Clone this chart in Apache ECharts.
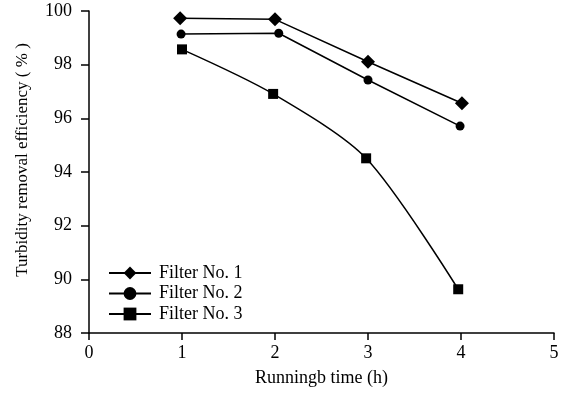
<!DOCTYPE html>
<html>
<head>
<meta charset="utf-8">
<script src="https://cdn.jsdelivr.net/npm/echarts@6/dist/echarts.min.js"></script>
<style>html,body{margin:0;padding:0;background:#fff;}#c{width:568px;height:394px;}</style>
</head>
<body>
<div id="c"></div>
<script>
const seriesNames = ['Filter No. 1', 'Filter No. 2', 'Filter No. 3'];
const filter1 = [[0.98, 99.73], [2.0, 99.69], [3.0, 98.11], [4.01, 96.56]];
const filter2 = [[0.99, 99.14], [2.04, 99.17], [3.0, 97.43], [3.99, 95.71]];
const filter3 = [[1.0, 98.57], [1.98, 96.91], [2.98, 94.51], [3.97, 89.63]];
const xTicks = [0, 1, 2, 3, 4, 5];
const yTicks = [88, 90, 92, 94, 96, 98, 100];

const font = 'Liberation Serif';
const chart = echarts.init(document.getElementById('c'));
function mk(name, data, symbol, size, smooth) {
  return {
    name: name, type: 'line', data: data, symbol: symbol, symbolSize: size,
    smooth: smooth, lineStyle: {color: '#000', width: 1.5}, itemStyle: {color: '#000'},
    showSymbol: true, animation: false, z: 3
  };
}
chart.setOption({
  animation: false,
  backgroundColor: '#fff',
  grid: {left: 89, right: 14, top: 11, bottom: 61, containLabel: false},
  legend: {
    orient: 'vertical', left: 108, top: 264, padding: 0, itemWidth: 42, itemHeight: 16, itemGap: 2.5,
    textStyle: {fontFamily: font, fontSize: 18, color: '#000', padding: [0, 0, 0, 3]},
    data: seriesNames
  },
  xAxis: {
    type: 'value', min: xTicks[0], max: xTicks[xTicks.length - 1], interval: 1,
    name: 'Runningb time (h)', nameLocation: 'middle', nameGap: 36,
    nameTextStyle: {fontFamily: font, fontSize: 18, color: '#000'},
    axisLine: {show: true, lineStyle: {color: '#000', width: 1.5}},
    axisTick: {show: true, inside: false, length: 7, lineStyle: {color: '#000', width: 1.5}},
    axisLabel: {fontFamily: font, fontSize: 18, color: '#000', margin: 11},
    splitLine: {show: false}
  },
  yAxis: {
    type: 'value', min: yTicks[0], max: yTicks[yTicks.length - 1], interval: 2,
    name: 'Turbidity removal efficiency ( % )', nameLocation: 'middle', nameGap: 58,
    nameTextStyle: {fontFamily: font, fontSize: 17, color: '#000', padding: [0, 0, 0, 24]},
    axisLine: {show: true, lineStyle: {color: '#000', width: 1.5}},
    axisTick: {show: true, inside: false, length: 8, lineStyle: {color: '#000', width: 1.5}},
    axisLabel: {fontFamily: font, fontSize: 18, color: '#000', margin: 17},
    splitLine: {show: false}
  },
  series: [
    mk(seriesNames[0], filter1, 'diamond', 14, false),
    mk(seriesNames[1], filter2, 'circle', 9, false),
    mk(seriesNames[2], filter3, 'rect', 10, 0.28)
  ]
});
</script>
</body>
</html>
